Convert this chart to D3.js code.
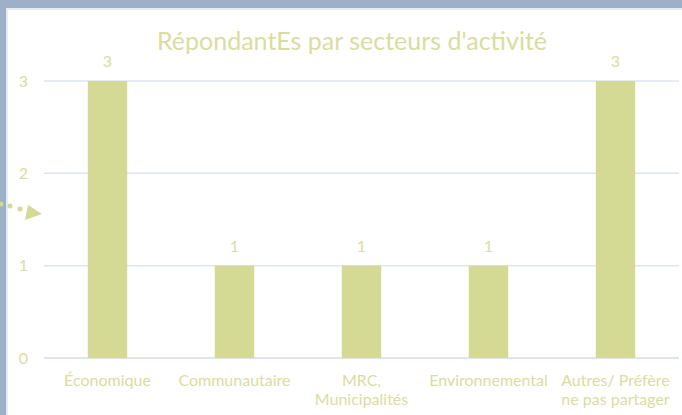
<!DOCTYPE html>
<html>
<head>
<meta charset="utf-8">
<script src="https://cdn.jsdelivr.net/npm/d3@7"></script>
<style>
  body { margin: 0; background: #9db0c8; }
  svg { display: block; font-family: Lato, "Open Sans", sans-serif; }
</style>
</head>
<body>
<script>
var categories = ["Économique", "Communautaire", "MRC, Municipalités", "Environnemental", "Autres/ Préfère ne pas partager"];
var labelLines = [["Économique"], ["Communautaire"], ["MRC,", "Municipalités"], ["Environnemental"], ["Autres/ Préfère", "ne pas partager"]];
var values = [3, 1, 1, 1, 3];
var yTicks = [0, 1, 2, 3];
var title = "RépondantEs par secteurs d'activité";

var width = 682, height = 415;
var margin = {top: 81, right: 3, bottom: 57, left: 44};

var barColor = "#d4d993";
var textColor = "#d9dd9f";
var gridColor = "#dde6f0";

var svg = d3.select("body").append("svg")
    .attr("width", width)
    .attr("height", height);

// fond : cadre bleu-gris + zone blanche
svg.append("rect")
    .attr("x", 0).attr("y", 0)
    .attr("width", width).attr("height", height)
    .style("fill", "#9db0c8");
svg.append("rect")
    .attr("x", 6).attr("y", 8)
    .attr("width", width - 6).attr("height", height - 8)
    .style("fill", "#e4ebf3");
svg.append("rect")
    .attr("x", 8).attr("y", 10)
    .attr("width", width - 8).attr("height", height - 10)
    .style("fill", "white");

var x = d3.scaleBand()
    .domain(categories)
    .range([margin.left, width - margin.right])
    .paddingInner(0.69)
    .paddingOuter(0.345);

var y = d3.scaleLinear()
    .domain([0, 3])
    .range([height - margin.bottom, margin.top]);

// grille
svg.append("g")
    .selectAll("line")
    .data(yTicks)
    .enter().append("line")
    .attr("x1", margin.left)
    .attr("x2", width - margin.right)
    .attr("y1", function(d) { return y(d); })
    .attr("y2", function(d) { return y(d); })
    .style("stroke", gridColor)
    .style("stroke-width", function(d) { return d == 0 ? 2 : 1.5; });

// axe y
var yAxis = d3.axisLeft(y).tickValues(yTicks).tickFormat(d3.format("d")).tickSize(0).tickPadding(16);
var gy = svg.append("g")
    .attr("transform", "translate(" + margin.left + ",0)")
    .call(yAxis);
gy.select(".domain").remove();
gy.selectAll("text")
    .style("fill", textColor)
    .style("font-family", "Lato, sans-serif")
    .style("font-size", "16px");

// barres
svg.append("g")
    .selectAll("rect")
    .data(values)
    .enter().append("rect")
    .attr("x", function(d, i) { return x(categories[i]); })
    .attr("width", x.bandwidth())
    .attr("y", function(d) { return y(d); })
    .attr("height", function(d) { return y(0) - y(d); })
    .style("fill", barColor);

// étiquettes de valeurs
svg.append("g")
    .selectAll("text")
    .data(values)
    .enter().append("text")
    .attr("x", function(d, i) { return x(categories[i]) + x.bandwidth() / 2; })
    .attr("y", function(d) { return y(d) - 14; })
    .attr("text-anchor", "middle")
    .style("fill", textColor)
    .style("font-size", "16px")
    .text(function(d) { return d; });

// étiquettes de catégories
var xl = svg.append("g")
    .selectAll("text")
    .data(categories)
    .enter().append("text")
    .attr("x", function(d) { return x(d) + x.bandwidth() / 2; })
    .attr("y", y(0) + 28)
    .attr("text-anchor", "middle")
    .style("fill", textColor)
    .style("font-size", "16px");
xl.each(function(d, i) {
    var t = d3.select(this);
    labelLines[i].forEach(function(line, j) {
        t.append("tspan")
            .attr("x", x(d) + x.bandwidth() / 2)
            .attr("dy", j == 0 ? 0 : 19)
            .text(line);
    });
});

// titre
svg.append("text")
    .attr("x", 352)
    .attr("y", 50)
    .attr("text-anchor", "middle")
    .style("fill", textColor)
    .style("font-size", "25px")
    .text(title);

// flèche pointillée à gauche
var arrow = svg.append("g").style("fill", barColor);
[[1, 204], [10, 206], [20, 209]].forEach(function(p) {
    arrow.append("circle").attr("cx", p[0]).attr("cy", p[1]).attr("r", 2.5);
});
arrow.append("path").attr("d", "M28,205 L42,214 L25,220 Z");
</script>
</body>
</html>
